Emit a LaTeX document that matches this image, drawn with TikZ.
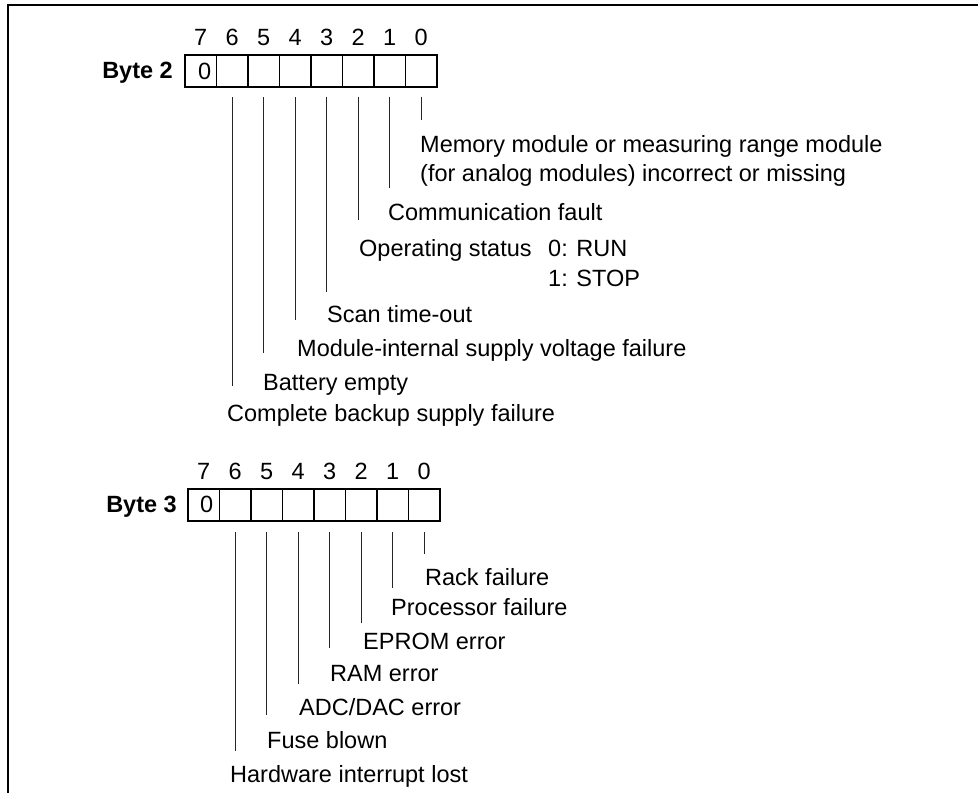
\documentclass[tikz,border=0pt]{standalone}
\usepackage{fontspec}
\setmainfont{Liberation Sans}
\begin{document}
\begin{tikzpicture}[x=1pt,y=-1pt,
  cell/.style={draw, line width=1.6pt, minimum width=31.5pt, minimum height=32pt, inner sep=0pt, outer sep=0pt, anchor=north west},
  lbl/.style={anchor=base west, inner sep=0pt, font=\fontsize{23.5}{28}\selectfont},
  num/.style={anchor=base, inner sep=0pt, font=\fontsize{23.5}{28}\selectfont},
  bytelbl/.style={anchor=base east, inner sep=0pt, font=\fontsize{23.5}{28}\selectfont\bfseries},
  tick/.style={line width=1pt, draw=black!85},
  frameline/.style={line width=2pt}]

\useasboundingbox (0,0) rectangle (978,793);

% frame (top and left edges)
\draw[frameline] (8,793) -- (8,5) -- (978,5);

% ---------- Byte 2 ----------
\node[bytelbl] (byte2) at (173,78.5) {Byte 2};
\foreach \i/\b in {0/7,1/6,2/5,3/4,4/3,5/2,6/1,7/0} {
  \node[cell] (a\b) at ({185+31.5*\i},55) {};
  \node[num] (na\b) at ({185+31.5*\i+15.75},45.5) {\b};
}
\node[num] (za) at ([xshift=4pt]a7.center |- 0,79) {0};

\foreach \b/\e in {6/386,5/353,4/320,3/292,2/220,1/188,0/120} {
  \coordinate (ea\b) at (a\b.south |- 0,\e);
  \draw[tick] (a\b.south) ++(0,10) -- (ea\b);
}

\node[lbl] (m1) at (420,152) {Memory module or measuring range module};
\node[lbl] (m2) at (420,181) {(for analog modules) incorrect or missing};
\node[lbl] (cf) at (388,220) {Communication fault};
\node[lbl] (os) at (359,256.5) {Operating status};
\node[lbl] (run) at (548,256.5) {0: RUN};
\node[lbl] (stop) at (548,286) {1: STOP};
\node[lbl] (sto) at (327,322) {Scan time-out};
\node[lbl] (mis) at (297,356.5) {Module-internal supply voltage failure};
\node[lbl] (be) at (263,390) {Battery empty};
\node[lbl] (cb) at (227,421.5) {Complete backup supply failure};

% ---------- Byte 3 ----------
\node[bytelbl] (byte3) at (177,512) {Byte 3};
\foreach \i/\b in {0/7,1/6,2/5,3/4,4/3,5/2,6/1,7/0} {
  \node[cell] (b\b) at ({188+31.5*\i},489) {};
  \node[num] (nb\b) at ({188+31.5*\i+15.75},479.5) {\b};
}
\node[num] (zb) at ([xshift=3pt]b7.center |- 0,512.5) {0};

\foreach \b/\e in {6/751,5/715,4/684,3/648,2/623,1/588,0/554} {
  \coordinate (eb\b) at (b\b.south |- 0,\e);
  \draw[tick] (b\b.south) ++(0,11) -- (eb\b);
}

\node[lbl] (rf) at (425,585) {Rack failure};
\node[lbl] (pf) at (391,615) {Processor failure};
\node[lbl] (ee) at (363,649) {EPROM error};
\node[lbl] (re) at (330,681.5) {RAM error};
\node[lbl] (ad) at (299,715) {ADC/DAC error};
\node[lbl] (fb) at (267,748) {Fuse blown};
\node[lbl] (hw) at (230,782) {Hardware interrupt lost};
\end{tikzpicture}
\end{document}
